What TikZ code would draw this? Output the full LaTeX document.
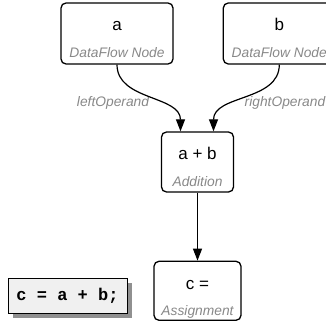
\documentclass[tikz,border=0pt]{standalone}
\usepackage{fontspec}
\setmainfont{Liberation Sans}
\newfontfamily\codefont{Liberation Mono}
\usepackage{tikz}
\usetikzlibrary{arrows.meta}
\usetikzlibrary{positioning,shadows}
\definecolor{kindgray}{HTML}{888888}
\definecolor{codebg}{HTML}{F0F0F0}
\definecolor{shadowgray}{HTML}{909090}

\begin{document}
\begin{tikzpicture}[x=1pt, y=-1pt, node distance=49pt,
			opbox/.style={draw, rounded corners=5pt, line width=1.3pt, inner sep=0pt},
			optext/.style={anchor=base, inner sep=0pt, font=\fontsize{17}{20}\selectfont},
			kindtext/.style={anchor=base, inner sep=0pt, text=kindgray, font=\fontsize{13.8}{16}\selectfont\itshape},
			flow/.style={line width=1.2pt, -{Triangle[length=12pt,width=9pt]}}]
			
			\useasboundingbox (0,0) rectangle (326,321);
			
			\node[opbox, minimum width=112pt, minimum height=61pt] (a) at (117,33.5) {};
			\node[opbox, minimum width=112pt, minimum height=61pt] (b) [right =of a] {};
			\node[opbox, minimum width=72pt, minimum height=60pt] (add) at (197.5,162) {};
			\node[opbox, minimum width=87pt, minimum height=59pt] (assign) [below =68pt of add] {};
			
			\node[optext] (a-op) at ([yshift=-28.5pt]a.north) {a};
			\node[kindtext] (a-kind) at ([yshift=-55pt]a.north) {DataFlow Node};
			\node[optext] (b-op) at ([yshift=-28.5pt]b.north) {b};
			\node[kindtext] (b-kind) at ([yshift=-55pt]b.north) {DataFlow Node};
			\node[optext] (add-op) at ([yshift=-28.5pt]add.north) {a + b};
			\node[kindtext] (add-kind) at ([yshift=-55pt]add.north) {Addition};
			\node[optext] (assign-op) at ([yshift=-28.5pt]assign.north) {c =};
			\node[kindtext] (assign-kind) at ([yshift=-55pt]assign.north) {Assignment};
			
			\node[kindtext, anchor=center] (left-lbl) at (113,103) {leftOperand};
			\node[kindtext, anchor=center] (right-lbl) at (285,103) {rightOperand};
			
			\node[draw, line width=0.9pt, fill=codebg, minimum width=119pt, minimum height=35pt,
				drop shadow={shadow xshift=5pt, shadow yshift=-5pt, fill=shadowgray, opacity=1},
				font=\codefont\bfseries\fontsize{17}{20}\selectfont] (code) at (67.5,295.5) {c = a + b;};
			
			\draw[flow] (a.south) to[out=-90, in=90] ([xshift=-17pt]add.north);
			\draw[flow] (b.south) to[out=-90, in=90] ([xshift=16pt]add.north);
			\draw[flow] (add.south) -- (assign.north);
			\end{tikzpicture}
\end{document}
